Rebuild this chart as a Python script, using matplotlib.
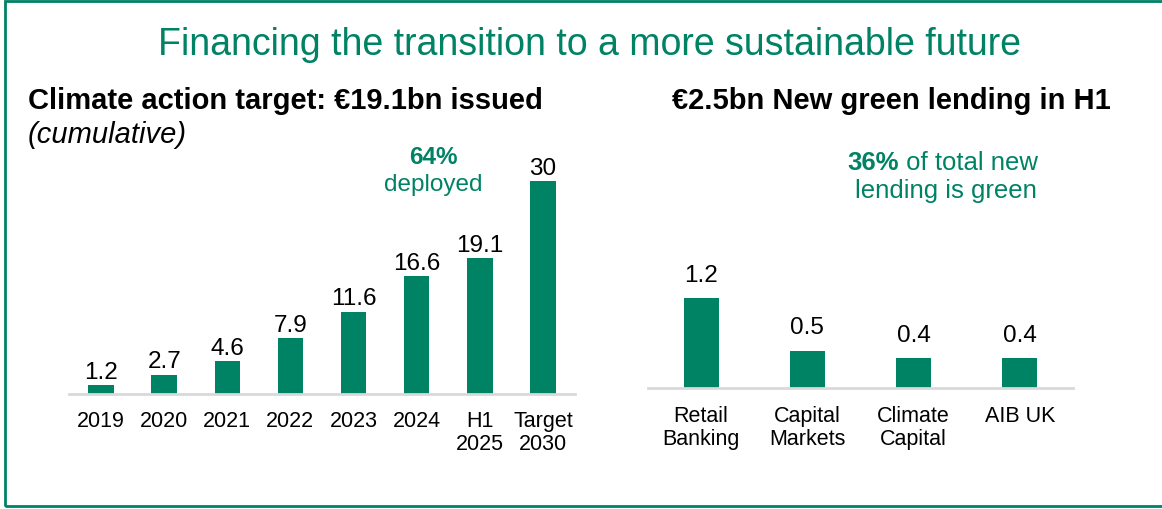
import matplotlib
matplotlib.use("Agg")
import matplotlib.pyplot as plt
from matplotlib.patches import Rectangle

plt.rcParams['font.family'] = ['Liberation Sans', 'DejaVu Sans']

GREEN = '#008265'
GREY = '#d9d9d9'

# data
years = ['2019', '2020', '2021', '2022', '2023', '2024', 'H1\n2025', 'Target\n2030']
cumulative = [1.2, 2.7, 4.6, 7.9, 11.6, 16.6, 19.1, 30]

segments = ['Retail\nBanking', 'Capital\nMarkets', 'Climate\nCapital', 'AIB UK']
green_lending = [1.2, 0.5, 0.4, 0.4]

W, H = 1162, 509
fig = plt.figure(figsize=(W / 100, H / 100), dpi=100)


def px(x, y):
    # pixel coords (from top left) -> figure fraction
    return x / W, 1 - y / H


def box(left, top, right, bottom):
    return [left / W, 1 - bottom / H, (right - left) / W, (bottom - top) / H]


# frame round the slide
fig.patches.append(Rectangle(px(5, 506), 1.2, (506 - 1) / H, transform=fig.transFigure,
                             fill=False, edgecolor=GREEN, linewidth=2))

fig.text(*px(590, 45), 'Financing the transition to a more sustainable future',
         ha='center', va='center', color=GREEN, fontsize=27)

# left chart
fig.text(*px(28, 101), 'Climate action target: €19.1bn issued', ha='left', va='center',
         fontsize=21, fontweight='bold')
fig.text(*px(28, 135), '(cumulative)', ha='left', va='center', fontsize=21, style='italic')
fig.text(*px(433, 157), '64%', ha='center', va='center', color=GREEN, fontsize=17.5, fontweight='bold')
fig.text(*px(433, 185), 'deployed', ha='center', va='center', color=GREEN, fontsize=17.5)

ax1 = fig.add_axes(box(69.4, 394 - 32 * 7.1, 574.6, 394))
ax1.bar(range(len(years)), cumulative, width=0.4, color=GREEN)
ax1.set_xlim(-0.5, len(years) - 0.5)
ax1.set_ylim(0, 32)
for i, v in enumerate(cumulative):
    ax1.annotate(f'{v:g}', (i, v), xytext=(0, 1), textcoords='offset points',
                 ha='center', va='bottom', fontsize=17.5)

# right chart
fig.text(*px(891, 101), '€2.5bn New green lending in H1', ha='center', va='center',
         fontsize=21, fontweight='bold')
fig.text(*px(899, 163), '36%', ha='right', va='center', color=GREEN, fontsize=18.5, fontweight='bold')
fig.text(*px(899, 163), ' of total new', ha='left', va='center', color=GREEN, fontsize=18.5)
fig.text(*px(946, 191), 'lending is green', ha='center', va='center', color=GREEN, fontsize=18.5)

ax2 = fig.add_axes(box(648, 388 - 1.5 * 75, 1073, 388))
ax2.bar(range(len(segments)), green_lending, width=0.33, color=GREEN)
ax2.set_xlim(-0.5, len(segments) - 0.5)
ax2.set_ylim(0, 1.5)
for i, v in enumerate(green_lending):
    ax2.annotate(f'{v:g}', (i, v), xytext=(0, 8), textcoords='offset points',
                 ha='center', va='bottom', fontsize=17.5)

for ax, labels, pad in ((ax1, years, 12), (ax2, segments, 13)):
    ax.set_xticks(range(len(labels)))
    ax.set_xticklabels(labels, fontsize=15.5, linespacing=1.15, va='top')
    ax.tick_params(axis='x', length=0, pad=pad)
    ax.set_yticks([])
    for s in ('top', 'right', 'left'):
        ax.spines[s].set_visible(False)
    ax.spines['bottom'].set_color(GREY)
    ax.spines['bottom'].set_linewidth(2)
    ax.patch.set_alpha(0)

fig.savefig('out.png', dpi=100)
